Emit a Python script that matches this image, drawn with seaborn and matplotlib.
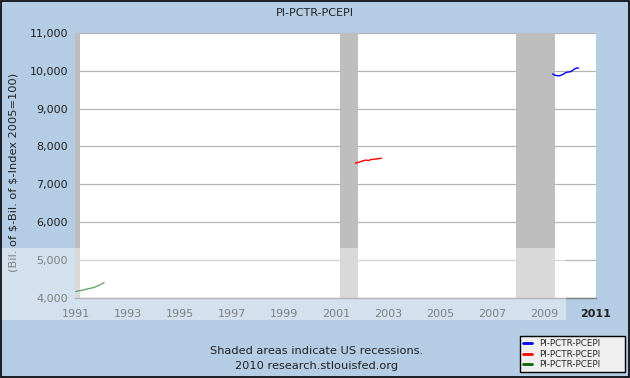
import pandas as pd
import numpy as np
import matplotlib.pyplot as plt
import matplotlib.dates as mdates
from matplotlib.patches import Rectangle
import seaborn as sns

# series values (monthly)
green_start = "1991-01-01"
green_vals = [4170, 4180, 4190, 4200, 4215, 4230, 4245, 4255, 4270, 4290, 4315, 4340, 4370, 4400]
red_start = "2001-10-01"
red_vals = [7560, 7575, 7590, 7610, 7630, 7640, 7625, 7650, 7660, 7665, 7670, 7680, 7690]
blue_start = "2009-05-01"
blue_vals = [9915, 9885, 9870, 9865, 9885, 9910, 9950, 9965, 9970, 10000, 10040, 10070, 10070]

recessions = [("1990-07-01", "1991-03-01"), ("2001-03-01", "2001-11-01"), ("2007-12-01", "2009-06-01")]
year_ticks = list(range(1991, 2012, 2))
y_ticks = list(range(4000, 11001, 1000))

series_name = "PI-PCTR-PCEPI"
bg = "#b4cce4"


def make_df(start, vals):
    return pd.DataFrame({"date": pd.date_range(start, periods=len(vals), freq="MS"), "value": vals})


sns.set_style("white")
plt.rcParams["font.family"] = ["DejaVu Sans"]

fig = plt.figure(figsize=(6.3, 3.78), dpi=100, facecolor=bg)
ax = fig.add_axes([0.119, 0.212, 0.827, 0.701])
ax.set_facecolor("white")

for a, b in recessions:
    ax.axvspan(pd.Timestamp(a), pd.Timestamp(b), color="#bebebe", lw=0, zorder=1)

for yv in y_ticks:
    ax.axhline(yv, color="#b4b4b4", lw=0.9, zorder=0.5)

sns.lineplot(data=make_df(blue_start, blue_vals), x="date", y="value", color="#0000ff", lw=1, ax=ax, label=series_name, zorder=3)
sns.lineplot(data=make_df(red_start, red_vals), x="date", y="value", color="#ff0000", lw=1, ax=ax, label=series_name, zorder=3)
sns.lineplot(data=make_df(green_start, green_vals), x="date", y="value", color="#006400", lw=1, ax=ax, label=series_name, zorder=3)

handles, labels = ax.get_legend_handles_labels()
ax.get_legend().remove()

ax.set_xlim(pd.Timestamp("1990-12-20"), pd.Timestamp("2011-01-01"))
ax.set_ylim(4000, 11000)
ax.set_xticks([pd.Timestamp(f"{y}-01-01") for y in year_ticks])
ax.xaxis.set_major_formatter(mdates.DateFormatter("%Y"))
ax.set_yticks(y_ticks)
ax.set_yticklabels([f"{v:,}" for v in y_ticks])
ax.tick_params(axis="x", direction="in", length=4, color="#808080", labelsize=8, pad=8, labelcolor="#222222")
ax.tick_params(axis="y", direction="out", length=3, color="#606060", labelsize=8, pad=2, labelcolor="#222222")
ax.get_xticklabels()[-1].set_fontweight("bold")
ax.set_xlabel("")
ax.set_ylabel("")
for s in ["top", "right", "left"]:
    ax.spines[s].set_visible(False)
ax.spines["bottom"].set_color("#808080")
ax.spines["bottom"].set_linewidth(1)

fig.text(0.5, 0.965, series_name, ha="center", va="center", fontsize=8, color="#222222")
fig.text(0.021, 0.545, r"(Bil. of \$-Bil. of \$-Index 2005=100)", rotation=90, ha="center", va="center",
         fontsize=8.2, color="#222222")
fig.text(0.502, 0.071, "Shaded areas indicate US recessions.", ha="center", va="center", fontsize=8.2, color="#222222")
fig.text(0.502, 0.031, "2010 research.stlouisfed.org", ha="center", va="center", fontsize=8.2, color="#222222")

# washed band across the lower part (as in the picture)
fig.patches.append(Rectangle((0, 1 - 320 / 378), 566 / 630, 72 / 378, transform=fig.transFigure,
                             facecolor="white", alpha=0.42, lw=0, zorder=5))
fig.patches.append(Rectangle((0.001, 0.002), 0.997, 0.995, transform=fig.transFigure,
                             fill=False, edgecolor="black", lw=1.2, zorder=6))

leg = fig.legend(handles, labels, loc="lower left", bbox_to_anchor=(0.826, 0.016, 0.166, 0.098),
                 mode="expand", fontsize=6.3, frameon=True, fancybox=False, handlelength=1.0,
                 handletextpad=0.8, borderpad=0.3, labelspacing=0.2, borderaxespad=0)
leg.get_frame().set_facecolor("#efefef")
leg.get_frame().set_edgecolor("black")
leg.get_frame().set_linewidth(1)
leg.get_frame().set_alpha(1)
for line in leg.get_lines():
    line.set_linewidth(2)

fig.savefig("out.png", dpi=100, facecolor=bg)
